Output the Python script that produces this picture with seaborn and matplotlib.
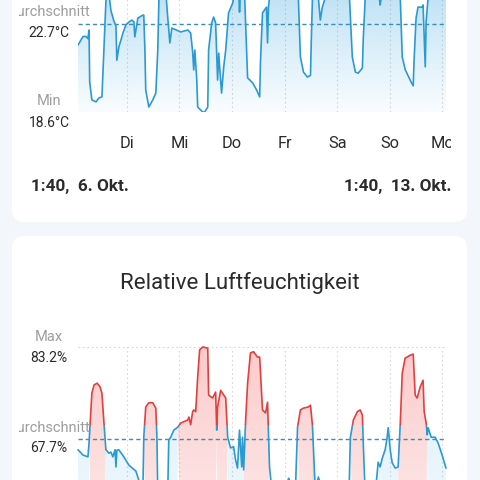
import numpy as np
import matplotlib
matplotlib.use('Agg')
import matplotlib.pyplot as plt
import matplotlib.colors as mcolors
import matplotlib.transforms as mtrans
import seaborn as sns
from matplotlib.path import Path
from matplotlib.patches import FancyBboxPatch, Rectangle
from matplotlib.transforms import Bbox

# Stunden seit Montag 6. Okt. 00:00
temp_hours = [1.67, 3.95, 5.3, 6.2, 6.7, 7.0, 8.0, 9.9, 11.2, 12.6, 13.5, 14.4, 15.3, 16.0, 16.7,
              18.1, 19.0, 19.4, 20.3, 22.2, 23.5, 24.9, 26.3, 27.2, 27.6, 29.0, 31.3, 31.7, 32.2,
              32.6, 34.0, 35.8, 37.2, 38.1, 38.6, 40.0, 41.5, 42.7, 43.6, 44.5, 48.6, 51.8, 53.1,
              54.0, 54.5, 55.0, 55.9, 56.3, 58.6, 59.5, 60.9, 61.3, 62.7, 63.6, 64.5, 65.4, 65.9,
              67.2, 68.2, 69.1, 70.4, 72.3, 73.5, 75.0, 75.4, 75.9, 77.3, 77.8, 79.1, 81.4, 83.2,
              84.6, 85.0, 85.9, 87.7, 88.2, 88.6, 89.6, 95.0, 100.0, 102.3, 103.2, 104.6, 106.4,
              107.8, 108.2, 108.7, 110.0, 111.4, 112.3, 113.2, 114.6, 118.0, 122.0, 125.6, 126.9,
              128.3, 129.6, 131.5, 131.9, 132.8, 136.0, 139.2, 139.6, 140.1, 144.0, 148.8, 149.7,
              151.1, 153.3, 154.7, 155.1, 156.0, 156.9, 158.8, 159.2, 160.2, 160.6, 161.5, 164.0,
              169.67]
temp_values = [21.70, 22.10, 22.10, 22.00, 22.40, 20.00, 19.16, 19.07, 19.25, 19.30, 21.50, 23.70,
               24.30, 23.90, 23.30, 22.80, 22.60, 21.00, 21.60, 22.26, 22.63, 22.77, 22.86, 22.77,
               22.08, 22.95, 23.09, 23.09, 21.50, 19.62, 18.83, 19.16, 19.48, 21.50, 23.80, 24.50,
               24.50, 22.90, 21.80, 22.49, 22.31, 22.40, 22.26, 21.40, 20.55, 21.47, 20.08, 18.83,
               18.60, 18.60, 18.83, 21.47, 22.72, 23.00, 22.72, 20.08, 21.33, 19.48, 20.69, 21.47,
               23.19, 23.65, 24.30, 24.40, 23.23, 24.30, 24.00, 23.80, 20.18, 19.95, 19.62, 19.30,
               21.00, 23.19, 23.46, 21.80, 23.46, 24.30, 24.60, 24.40, 23.80, 21.15, 20.45, 20.22,
               20.30, 22.00, 23.90, 24.40, 23.90, 22.86, 23.46, 23.90, 24.50, 24.60, 23.90, 21.15,
               20.45, 20.40, 20.64, 22.00, 23.90, 24.30, 23.90, 23.56, 23.90, 24.40, 23.90, 21.15,
               20.55, 20.08, 19.81, 21.00, 22.95, 23.46, 23.46, 23.56, 20.69, 22.80, 23.90, 24.30,
               24.40]

hum_hours = [1.67, 3.95, 6.2, 6.7, 8.0, 9.0, 10.4, 11.7, 12.6, 13.5, 14.4, 15.8, 16.7, 17.6, 18.6,
             19.0, 19.4, 20.3, 22.6, 24.9, 28.1, 29.4, 30.5, 31.2, 31.7, 32.6, 34.0, 35.8, 37.2,
             37.7, 38.1, 39.5, 41.0, 42.2, 42.7, 43.1, 44.0, 45.4, 47.2, 48.6, 51.8, 52.3, 53.1,
             54.0, 54.5, 55.4, 56.3, 57.2, 58.6, 60.9, 61.3, 63.1, 64.5, 65.0, 65.4, 66.8, 68.2,
             69.1, 70.0, 71.3, 72.7, 73.6, 74.5, 75.4, 76.4, 76.8, 77.3, 78.2, 79.1, 80.4, 81.8,
             83.6, 84.6, 85.9, 87.3, 88.2, 89.1, 90.5, 93.0, 96.0, 97.8, 99.6, 101.0, 101.9, 103.2,
             104.6, 106.9, 107.8, 108.7, 110.0, 111.4, 112.5, 115.0, 120.0, 124.0, 125.5, 126.0,
             127.4, 129.2, 130.5, 131.5, 131.9, 132.8, 135.0, 137.0, 138.7, 139.6, 140.6, 141.9,
             142.8, 143.3, 144.2, 145.1, 146.5, 147.8, 148.8, 149.7, 151.0, 153.3, 154.7, 155.6,
             156.5, 157.9, 159.2, 159.7, 160.6, 161.1, 161.5, 162.9, 164.7, 166.1, 167.9, 169.67]
hum_values = [65.9, 65.0, 64.7, 67.0, 75.4, 76.8, 77.1, 76.5, 75.4, 70.5, 65.9, 65.3, 65.5, 64.7,
              65.9, 63.0, 65.8, 65.9, 64.7, 63.3, 62.3, 60.8, 57.0, 57.0, 68.0, 73.1, 73.8, 73.8,
              72.9, 68.0, 58.0, 56.0, 55.5, 57.0, 60.0, 67.5, 68.0, 69.2, 69.7, 70.4, 70.9, 71.4,
              70.1, 72.3, 72.6, 72.3, 78.1, 82.7, 83.2, 83.0, 75.1, 74.6, 75.6, 69.2, 73.1, 75.9,
              75.1, 74.6, 68.0, 66.2, 66.4, 64.2, 62.8, 69.2, 63.0, 68.0, 62.5, 70.9, 77.1, 82.2,
              82.4, 81.5, 81.5, 72.6, 72.1, 73.9, 63.0, 58.0, 56.0, 58.0, 61.1, 59.0, 60.0, 69.7,
              72.6, 72.9, 73.1, 73.4, 70.0, 59.0, 61.3, 60.0, 57.0, 56.0, 57.0, 60.0, 68.0, 70.9,
              72.3, 72.6, 71.7, 67.0, 58.0, 56.0, 57.0, 63.8, 63.0, 64.5, 65.9, 68.0, 69.6, 65.9,
              63.7, 62.8, 63.0, 70.4, 78.8, 81.3, 81.8, 82.0, 75.1, 74.6, 76.5, 77.6, 72.3, 70.4,
              68.4, 69.6, 68.0, 68.0, 67.0, 65.0, 62.8]

day_hours = [24, 48, 72, 96, 120, 144, 168]
day_labels = ['Di', 'Mi', 'Do', 'Fr', 'Sa', 'So', 'Mo']

temp_min, temp_avg = 18.6, 22.7
hum_max, hum_avg = 83.2, 67.7
hum_high = 70  # darueber wird die Kurve rot

BG = '#f3f6fb'
BLUE = '#2b9ad3'
RED = '#e2403f'
AVG = '#3b8db5'
GRID = '#d8d8d8'
GREY = '#9e9e9e'
DARK = '#2b2b2b'

sns.set_theme(style='white')
plt.rcParams['font.family'] = ['Roboto', 'DejaVu Sans']

fig = plt.figure(figsize=(4.8, 4.8), dpi=100, facecolor=BG)


def fy(y):
    return 1 - y / 480


# weisse Karten
for top, bottom in [(-40, 222), (236, 540)]:
    fig.add_artist(FancyBboxPatch((12 / 480, fy(bottom)), 455 / 480, (bottom - top) / 480,
                                  boxstyle='round,pad=0,rounding_size=0.027',
                                  transform=fig.transFigure, fc='white', ec='none', zorder=0))

ax_t = fig.add_axes([78 / 480, fy(112), 368 / 480, 142 / 480])
ax_h = fig.add_axes([78 / 480, 0, 368 / 480, 140 / 480])


def gradient_fill(ax, x, y, base, top, where, color, a_top, a_bot):
    coll = ax.fill_between(x, y, base, where=where, interpolate=True, color='none', lw=0)
    paths = coll.get_paths()
    if not paths:
        return
    clip = Path.make_compound_path(*paths)
    grad = np.zeros((256, 1, 4))
    grad[..., :3] = mcolors.to_rgb(color)
    grad[..., 3] = np.linspace(a_top, a_bot, 256)[:, None]
    im = ax.imshow(grad, extent=[x[0], x[-1], base, top], aspect='auto', origin='upper',
                   zorder=1, interpolation='bilinear')
    im.set_clip_path(clip, ax.transData)


# Temperatur
t = np.array(temp_hours)
tv = np.array(temp_values)
gradient_fill(ax_t, t, tv, temp_min, 24.0, np.ones_like(tv, bool), '#3aa6e0', 0.32, 0.03)
ax_t.vlines(day_hours, temp_min, 30, colors=GRID, lw=0.8, linestyles=(0, (1.5, 2.5)), zorder=0.5)
ax_t.axhline(temp_min, color=GRID, lw=0.8, ls=(0, (1.5, 2.5)), zorder=0.5)
ax_t.axhline(temp_avg, color=AVG, lw=1.0, ls=(0, (3, 2.2)), zorder=2)
sns.lineplot(x=temp_hours, y=temp_values, ax=ax_t, color=BLUE, lw=1.2, zorder=3)
ax_t.set_xlim(1.67, 169.67)
ax_t.set_ylim(18.6, 25.18)

# Luftfeuchtigkeit
h = np.array(hum_hours)
hv = np.array(hum_values)
gradient_fill(ax_h, h, hv, 50, hum_max, hv >= hum_high, '#f77b7b', 0.40, 0.14)
gradient_fill(ax_h, h, hv, 50, hum_max, hv <= hum_high, '#4ab0e6', 0.22, 0.06)
ax_h.vlines(day_hours, 50, hum_max, colors=GRID, lw=0.8, linestyles=(0, (1.5, 2.5)), zorder=0.5)
ax_h.axhline(hum_max, color=GRID, lw=0.8, ls=(0, (1.5, 2.5)), zorder=0.5)
ax_h.axhline(hum_avg, color=AVG, lw=1.0, ls=(0, (3, 2.2)), zorder=2)
sns.lineplot(x=hum_hours, y=hum_values, ax=ax_h, color=BLUE, lw=1.2, zorder=3)
ax_h.lines[-1].set_clip_path(Rectangle((0, 0), 200, hum_high, transform=ax_h.transData))
sns.lineplot(x=hum_hours, y=hum_values, ax=ax_h, color=RED, lw=1.2, zorder=3)
ax_h.lines[-1].set_clip_path(Rectangle((0, hum_high), 200, 50, transform=ax_h.transData))
ax_h.set_xlim(1.67, 169.67)
ax_h.set_ylim(60.8, 84.37)

for ax in (ax_t, ax_h):
    ax.set_facecolor('none')
    ax.set_axis_off()

clip = Bbox([[19, 0], [451, 480]])


def label(x, y, s, clipped=False, **kw):
    kw.setdefault('ha', 'center')
    kw.setdefault('va', 'center')
    txt = fig.text(x / 480, fy(y), s, **kw)
    if clipped:
        txt.set_clip_box(clip)
        txt.set_clip_on(True)
    return txt


# Beschriftungen Temperatur
label(49, 12, 'Durchschnitt', clipped=True, color=GREY, fontsize=10.5)
label(49, 33, '22.7°C', color=DARK, fontsize=10)
label(49, 101, 'Min', color=GREY, fontsize=10.5)
label(49, 123, '18.6°C', color=DARK, fontsize=10)

trans = mtrans.blended_transform_factory(ax_t.transData, fig.transFigure)
for hr, lab in zip(day_hours, day_labels):
    txt = ax_t.text(hr, fy(144), lab, transform=trans, ha='center', va='center',
                    fontsize=11.8, color=DARK, clip_on=False)
    txt.set_clip_box(clip)
    txt.set_clip_on(True)

label(31, 187, '1:40,  6. Okt.', ha='left', color=DARK, fontsize=12.3, fontweight='bold')
label(451, 187, '1:40,  13. Okt.', ha='right', color=DARK, fontsize=12.3, fontweight='bold')

# Beschriftungen Luftfeuchtigkeit
label(240, 283, 'Relative Luftfeuchtigkeit', color=DARK, fontsize=16)
label(49, 337, 'Max', color=GREY, fontsize=10.5)
label(49, 358, '83.2%', color=DARK, fontsize=10)
label(49, 428, 'Durchschnitt', clipped=True, color=GREY, fontsize=10.5)
label(49, 448, '67.7%', color=DARK, fontsize=10)

fig.savefig('out.png', dpi=100, facecolor=BG)
